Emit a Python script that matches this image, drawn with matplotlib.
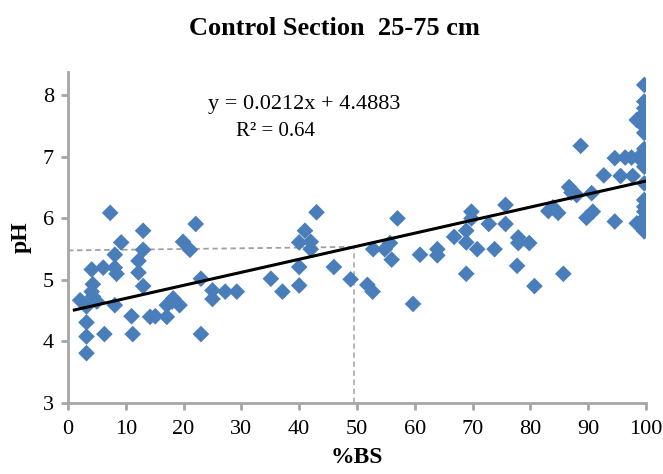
import matplotlib
matplotlib.use("Agg")
import matplotlib.pyplot as plt
import numpy as np

# --- data ---
bs = [7.3, 13.0, 9.2, 8.1, 12.2, 13.0, 4.1, 6.1, 8.1, 8.4, 12.2, 13.0, 4.3, 4.1, 4.3, 2.1,
      5.0, 3.2, 8.1, 14.2, 3.2, 11.0, 3.2, 6.3, 11.2, 3.2,
      22.1, 19.9, 21.1, 23.0, 15.1, 17.1, 17.1, 18.2, 19.3, 18.0, 25.0, 25.0, 27.2, 29.2, 23.0,
      43.0, 41.0, 40.0, 42.0, 42.0, 40.0, 46.0, 35.1, 37.1, 40.0, 48.9, 51.8, 52.7, 52.8,
      57.0, 55.7, 54.8, 56.0, 59.7, 60.9, 63.9, 63.9, 66.8, 68.9, 68.9, 68.9, 69.8, 69.8,
      70.8, 72.8, 73.8, 75.7, 75.7,
      94.6, 88.7, 92.7, 86.7, 87.1, 88.0, 90.6, 83.1, 84.8, 83.9, 89.7, 90.8, 94.6,
      77.9, 77.9, 79.8, 77.7, 85.7, 80.7,
      99.7, 99.7, 99.7, 99.7, 98.4, 99.7, 99.7, 99.7, 99.7, 96.4, 97.5, 98.7, 99.7, 99.7,
      95.6, 97.7, 99.7, 99.7, 99.7, 99.7, 98.4, 99.7, 99.7, 99.7]
ph = [6.09, 5.80, 5.61, 5.41, 5.31, 5.49, 5.17, 5.20, 5.20, 5.10, 5.12, 4.90, 4.93, 4.81, 4.73, 4.67,
      4.65, 4.57, 4.59, 4.40, 4.31, 4.41, 4.08, 4.12, 4.12, 3.81,
      5.91, 5.62, 5.49, 5.02, 4.41, 4.40, 4.59, 4.70, 4.59, 4.65, 4.83, 4.69, 4.81, 4.81, 4.12,
      6.10, 5.80, 5.61, 5.62, 5.50, 5.21, 5.21, 5.02, 4.81, 4.91, 5.01, 4.92, 4.81, 5.50,
      6.00, 5.60, 5.50, 5.33, 4.61, 5.41, 5.50, 5.40, 5.70, 5.80, 5.61, 5.10, 6.11, 6.00,
      5.50, 5.91, 5.50, 6.22, 5.91,
      6.98, 7.18, 6.70, 6.51, 6.42, 6.38, 6.41, 6.12, 6.09, 6.18, 6.01, 6.11, 5.95,
      5.69, 5.60, 5.60, 5.23, 5.10, 4.90,
      8.17, 7.90, 7.79, 7.71, 7.60, 7.57, 7.49, 7.39, 7.13, 6.99, 6.99, 6.99, 6.95, 6.84,
      6.69, 6.69, 6.57, 6.30, 6.19, 6.11, 5.92, 6.00, 5.87, 5.79]

slope = 0.0212
intercept = 4.4883
r2 = 0.64
ref_x = 49.5
ref_y_left = 5.48

x_ticks = [0, 10, 20, 30, 40, 50, 60, 70, 80, 90, 100]
y_ticks = [3, 4, 5, 6, 7, 8]

plt.rcParams['font.family'] = ['Liberation Serif', 'DejaVu Serif']

fig = plt.figure(figsize=(6.63, 4.74), dpi=100)
ax = fig.add_axes([68/663, (474-403)/474, (646-68)/663, (403-72)/474])

axis_grey = '#a6a6a6'
ax.scatter(bs, ph, marker='D', s=72, color='#4a7ebb', edgecolors='none', zorder=3)

xl = np.array([min(bs) - 1.0, 100])
ax.plot(xl, slope * xl + intercept, color='black', lw=2.2, zorder=4)

ref_y = slope * ref_x + intercept
ax.plot([0, ref_x], [ref_y_left, ref_y], color='#a0a0a0', ls=(0, (3, 2)), lw=1.3, zorder=2)
ax.plot([ref_x, ref_x], [3, ref_y], color='#b0b0b0', ls=(0, (3, 2)), lw=1.3, zorder=2)

ax.set_xlim(0, 100)
ax.set_ylim(3, 8.38)
ax.set_xticks(x_ticks)
ax.set_yticks(y_ticks)
ax.tick_params(axis='both', labelsize=16, color=axis_grey, width=2, length=5, direction='out')
ax.tick_params(axis='x', pad=7)
ax.tick_params(axis='y', pad=5)
for s in ['top', 'right']:
    ax.spines[s].set_visible(False)
for s in ['left', 'bottom']:
    ax.spines[s].set_color(axis_grey)
    ax.spines[s].set_linewidth(2)

ax.text(24.2, 7.85, f"y = {slope}x + {intercept}", fontsize=16, va='center', ha='left')
ax.text(29.1, 7.41, f"R² = {r2}", fontsize=15, va='center', ha='left')

fig.text(0.505, 0.94, "Control Section  25-75 cm", fontsize=19, fontweight='bold',
         ha='center', va='center')
ax.set_xlabel("%BS", fontsize=17, fontweight='bold', labelpad=6)
ax.set_ylabel("pH", fontsize=17, fontweight='bold', labelpad=8)

fig.savefig("out.png", dpi=100)
